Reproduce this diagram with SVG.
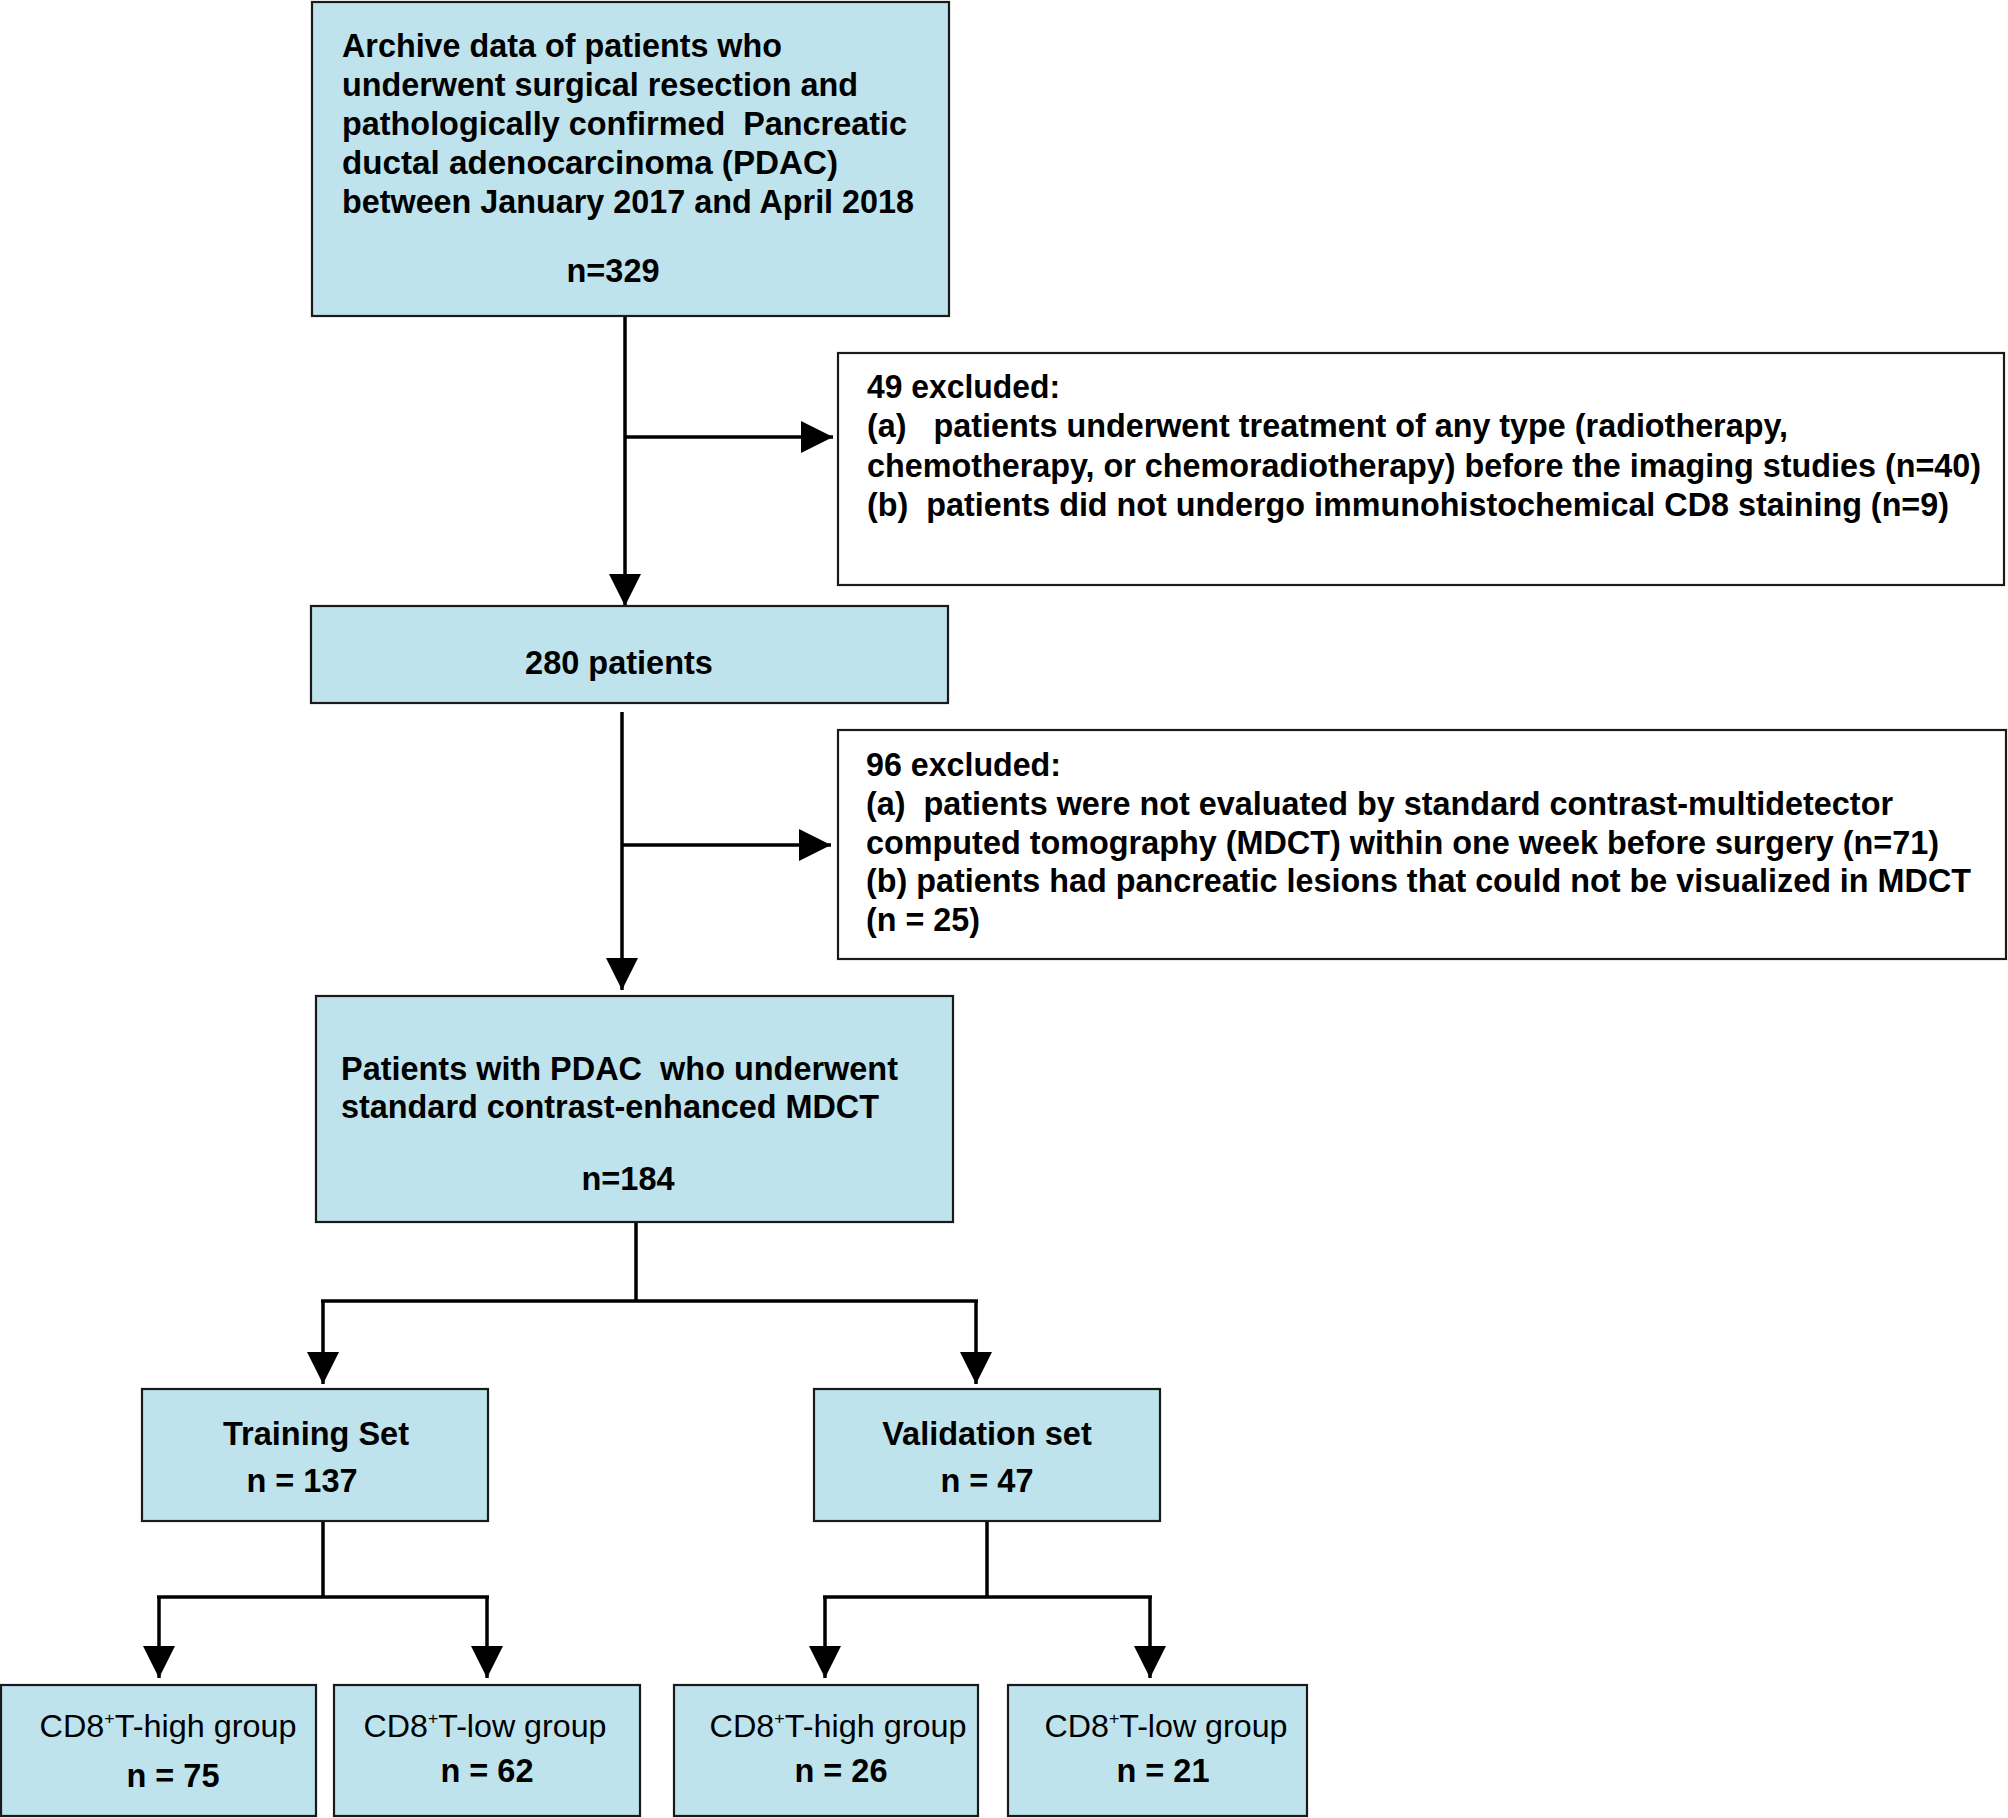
<svg xmlns="http://www.w3.org/2000/svg" width="2008" height="1818" viewBox="0 0 2008 1818">
<style>
.box{fill:#bee3ec;stroke:#1a1a1a;stroke-width:2.2}
.wbox{fill:#ffffff;stroke:#1a1a1a;stroke-width:2.2}
.t{font-family:"Liberation Sans",Arial,sans-serif;font-weight:bold;font-size:32.5px;fill:#000}
.te{font-family:"Liberation Sans",Arial,sans-serif;font-weight:bold;font-size:33.5px;fill:#000}
.tn{font-family:"Liberation Sans",Arial,sans-serif;font-weight:normal;font-size:31px;fill:#000}
.c{text-anchor:middle}
.ln{fill:none;stroke:#000;stroke-width:3.5}
</style>
<defs>
<marker id="ah" viewBox="0 0 32 32" markerWidth="32" markerHeight="32" refX="32" refY="16" orient="auto" markerUnits="userSpaceOnUse">
<path d="M0,0 L32,16 L0,32 z" fill="#000"/>
</marker>
</defs>
<rect width="2008" height="1818" fill="#ffffff"/>
<g id="connectors">
<path class="ln" d="M625,316 V606" marker-end="url(#ah)"/>
<path class="ln" d="M625,437 H833" marker-end="url(#ah)"/>
<path class="ln" d="M622,712 V990" marker-end="url(#ah)"/>
<path class="ln" d="M622,845 H831" marker-end="url(#ah)"/>
<path class="ln" d="M636,1222 V1301 M321,1301 H978"/>
<path class="ln" d="M323,1301 V1384" marker-end="url(#ah)"/>
<path class="ln" d="M976,1301 V1384" marker-end="url(#ah)"/>
<path class="ln" d="M323,1521 V1597 M157,1597 H489"/>
<path class="ln" d="M159,1597 V1678" marker-end="url(#ah)"/>
<path class="ln" d="M487,1597 V1678" marker-end="url(#ah)"/>
<path class="ln" d="M987,1521 V1597 M823,1597 H1152"/>
<path class="ln" d="M825,1597 V1678" marker-end="url(#ah)"/>
<path class="ln" d="M1150,1597 V1678" marker-end="url(#ah)"/>
</g>
<g id="archive">
<rect class="box" x="312" y="2" width="637" height="314"/>
<text class="t" x="342" y="57" textLength="440" lengthAdjust="spacingAndGlyphs">Archive data of patients who</text>
<text class="t" x="342" y="96" textLength="516" lengthAdjust="spacingAndGlyphs">underwent surgical resection and</text>
<text class="t" x="342" y="135" textLength="565" lengthAdjust="spacingAndGlyphs" xml:space="preserve">pathologically confirmed  Pancreatic</text>
<text class="t" x="342" y="174" textLength="496" lengthAdjust="spacingAndGlyphs">ductal adenocarcinoma (PDAC)</text>
<text class="t" x="342" y="213" textLength="572" lengthAdjust="spacingAndGlyphs">between January 2017 and April 2018</text>
<text class="t c" x="613" y="282">n=329</text>
</g>
<g id="excl1">
<rect class="wbox" x="838" y="353" width="1166" height="232"/>
<text class="te" x="867" y="398" textLength="193" lengthAdjust="spacingAndGlyphs">49 excluded:</text>
<text class="te" x="867" y="437" textLength="921" lengthAdjust="spacingAndGlyphs" xml:space="preserve">(a)   patients underwent treatment of any type (radiotherapy,</text>
<text class="te" x="867" y="477" textLength="1114" lengthAdjust="spacingAndGlyphs">chemotherapy, or chemoradiotherapy) before the imaging studies (n=40)</text>
<text class="te" x="867" y="516" textLength="1082" lengthAdjust="spacingAndGlyphs" xml:space="preserve">(b)  patients did not undergo immunohistochemical CD8 staining (n=9)</text>
</g>
<g id="p280">
<rect class="box" x="311" y="606" width="637" height="97"/>
<text class="t c" x="619" y="674">280 patients</text>
</g>
<g id="excl2">
<rect class="wbox" x="838" y="730" width="1168" height="229"/>
<text class="te" x="866" y="776" textLength="195" lengthAdjust="spacingAndGlyphs">96 excluded:</text>
<text class="te" x="866" y="815" textLength="1027" lengthAdjust="spacingAndGlyphs" xml:space="preserve">(a)  patients were not evaluated by standard contrast-multidetector</text>
<text class="te" x="866" y="854" textLength="1073" lengthAdjust="spacingAndGlyphs">computed tomography (MDCT) within one week before surgery (n=71)</text>
<text class="te" x="866" y="892" textLength="1105" lengthAdjust="spacingAndGlyphs">(b) patients had pancreatic lesions that could not be visualized in MDCT</text>
<text class="te" x="866" y="931" textLength="114" lengthAdjust="spacingAndGlyphs">(n = 25)</text>
</g>
<g id="p184">
<rect class="box" x="316" y="996" width="637" height="226"/>
<text class="t" x="341" y="1080" textLength="557" lengthAdjust="spacingAndGlyphs" xml:space="preserve">Patients with PDAC  who underwent</text>
<text class="t" x="341" y="1118" textLength="538" lengthAdjust="spacingAndGlyphs">standard contrast-enhanced MDCT</text>
<text class="t c" x="628" y="1190">n=184</text>
</g>
<g id="training">
<rect class="box" x="142" y="1389" width="346" height="132"/>
<text class="t c" x="316" y="1445">Training Set</text>
<text class="t c" x="302" y="1492">n = 137</text>
</g>
<g id="validation">
<rect class="box" x="814" y="1389" width="346" height="132"/>
<text class="t c" x="987" y="1445">Validation set</text>
<text class="t c" x="987" y="1492">n = 47</text>
</g>
<g id="train_high">
<rect class="box" x="1" y="1685" width="315" height="131"/>
<text class="tn c" x="168" y="1737" textLength="257" lengthAdjust="spacingAndGlyphs">CD8<tspan font-size="17" dy="-13">+</tspan><tspan dy="13">T-high group</tspan></text>
<text class="t c" x="173" y="1787">n = 75</text>
</g>
<g id="train_low">
<rect class="box" x="334" y="1685" width="306" height="131"/>
<text class="tn c" x="485" y="1737" textLength="243" lengthAdjust="spacingAndGlyphs">CD8<tspan font-size="17" dy="-13">+</tspan><tspan dy="13">T-low group</tspan></text>
<text class="t c" x="487" y="1782">n = 62</text>
</g>
<g id="val_high">
<rect class="box" x="674" y="1685" width="304" height="131"/>
<text class="tn c" x="838" y="1737" textLength="257" lengthAdjust="spacingAndGlyphs">CD8<tspan font-size="17" dy="-13">+</tspan><tspan dy="13">T-high group</tspan></text>
<text class="t c" x="841" y="1782">n = 26</text>
</g>
<g id="val_low">
<rect class="box" x="1008" y="1685" width="299" height="131"/>
<text class="tn c" x="1166" y="1737" textLength="243" lengthAdjust="spacingAndGlyphs">CD8<tspan font-size="17" dy="-13">+</tspan><tspan dy="13">T-low group</tspan></text>
<text class="t c" x="1163" y="1782">n = 21</text>
</g>
</svg>
